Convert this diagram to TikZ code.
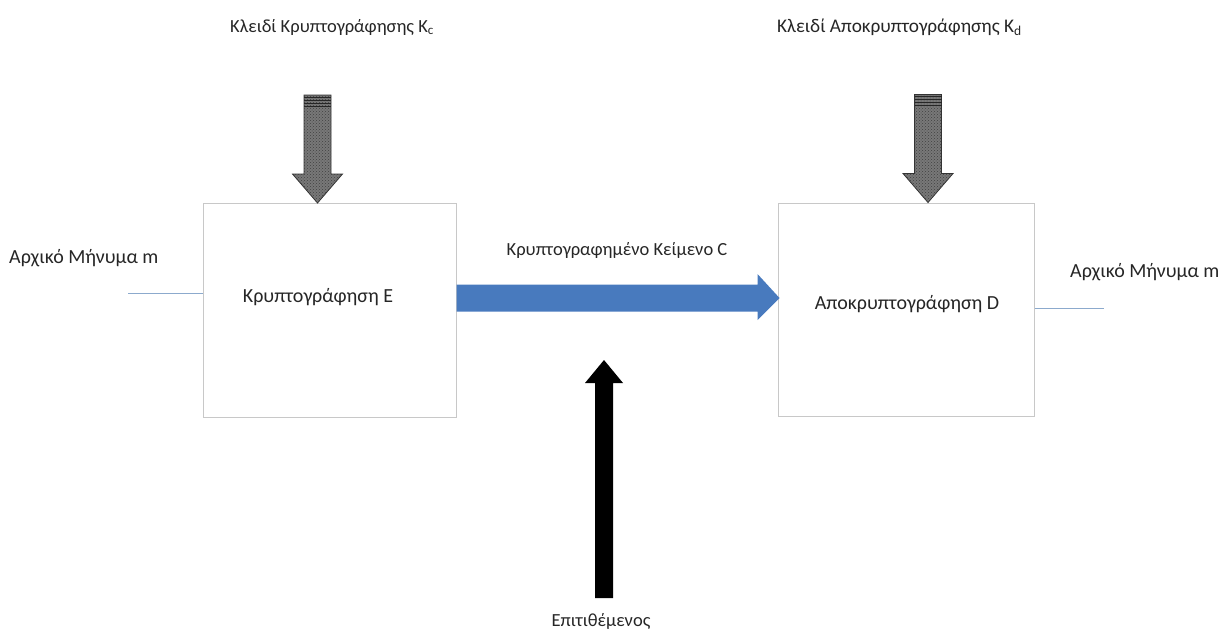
\documentclass[tikz,border=0pt]{standalone}
\usepackage{fontspec}
\setmainfont{Carlito}
\usetikzlibrary{patterns,calc}
\definecolor{boxline}{RGB}{200,200,200}
\definecolor{thinblue}{RGB}{140,170,205}
\definecolor{cblue}{RGB}{72,122,190}
\definecolor{keygray}{RGB}{120,120,120}
\begin{document}
\begin{tikzpicture}[x=1pt,y=-1pt,
  lbl/.style={font=\fontsize{18.5}{22}\selectfont, text=black!85, inner sep=0pt},
  biglbl/.style={font=\fontsize{20}{24}\selectfont, text=black!85, inner sep=0pt},
  procbox/.style={draw=boxline, line width=1pt, minimum width=253pt, minimum height=214pt, inner sep=0pt},
  keyarrow/.style={fill=keygray, draw=black!80, line width=0.8pt},
  keydots/.style={pattern=crosshatch dots, pattern color=black!75},
  thinline/.style={draw=thinblue, line width=1pt}]
\useasboundingbox (0,0) rectangle (1230,635);
% boxes
\node[procbox] (E) at (329.5,310.5) {};
\node[procbox, minimum width=256pt, minimum height=213pt] (D) at (906,309.5) {};
\node[biglbl] (Et) at (318,297) {Κρυπτογράφηση E};
\node[biglbl] (Dt) at (907,304) {Αποκρυπτογράφηση D};
% labels
\node[biglbl, anchor=west] (mL) at (9,258) {Αρχικό Μήνυμα m};
\node[biglbl, anchor=west] (mR) at (1070,272) {Αρχικό Μήνυμα m};
\node[lbl, anchor=west] (kc) at (230,27) {Κλειδί Κρυπτογράφησης K\textsubscript{c}};
\node[lbl, font=\fontsize{19.3}{23}\selectfont, anchor=west] (kd) at (777,27) {Κλειδί Αποκρυπτογράφησης K\textsubscript{d}};
\node[lbl] (ct) at (617,250) {Κρυπτογραφημένο Κείμενο C};
\node[lbl] (att) at (601,621) {Επιτιθέμενος};
% thin lines
\coordinate (inL) at (128,293);
\coordinate (outR) at (1104,308);
\draw[thinline] (inL) -- (E.west |- inL);
\draw[thinline] (D.east |- outR) -- (outR);
% key arrows
\foreach \b/\cx in {E/317.5, D/928}{
  \coordinate (tip) at (\cx,0 |- \b.north);
  \path[keyarrow] ($(tip)+(-13.5,-108)$) -- ($(tip)+(13.5,-108)$) -- ($(tip)+(13.5,-29)$) -- ($(tip)+(25,-29)$) -- (tip) -- ($(tip)+(-25,-29)$) -- ($(tip)+(-13.5,-29)$) -- cycle;
  \path[keydots] ($(tip)+(-13.5,-108)$) -- ($(tip)+(13.5,-108)$) -- ($(tip)+(13.5,-29)$) -- ($(tip)+(25,-29)$) -- (tip) -- ($(tip)+(-25,-29)$) -- ($(tip)+(-13.5,-29)$) -- cycle;
  \foreach \dy in {-106,-103,-100,-97}{
    \draw[black!85, line width=1pt] ($(tip)+(-13.5,\dy)$) -- ($(tip)+(13.5,\dy)$);
  }
}
% blue arrow
\coordinate (cs) at (E.east |- 0,298);
\coordinate (ce) at (D.west |- 0,298);
\fill[cblue] ($(cs)+(0,-13.5)$) -- ($(ce)+(-20,-13.5)$) -- ($(ce)+(-20,-24)$) -- ($(ce)+(2,0)$) -- ($(ce)+(-20,22)$) -- ($(ce)+(-20,13.5)$) -- ($(cs)+(0,13.5)$) -- cycle;
% attacker arrow
\coordinate (ab) at (604,598);
\coordinate (at) at (604,360);
\fill[black] ($(ab)+(-9,0)$) -- ($(at)+(-9,23)$) -- ($(at)+(-19,23)$) -- (at) -- ($(at)+(19,23)$) -- ($(at)+(9,23)$) -- ($(ab)+(9,0)$) -- cycle;
\end{tikzpicture}
\end{document}
